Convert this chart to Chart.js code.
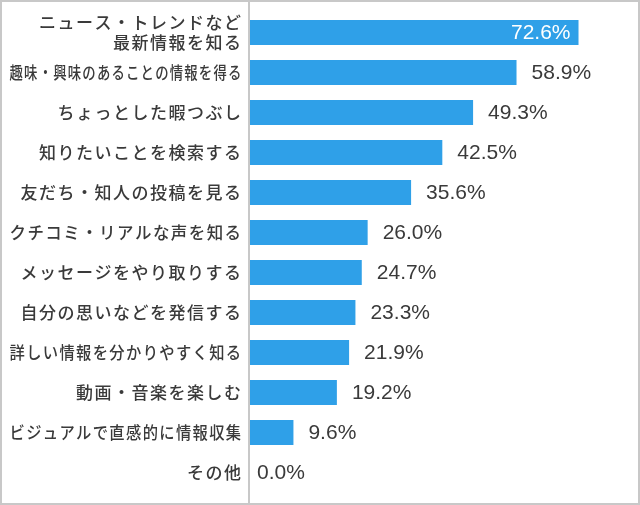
<!DOCTYPE html>
<html>
<head>
<meta charset="utf-8">
<script src="https://cdn.jsdelivr.net/npm/chart.js@4/dist/chart.umd.min.js"></script>
<style>
  html, body { margin: 0; padding: 0; background: #fff; }
  #box { width: 640px; height: 505px; box-sizing: border-box; border: 2px solid #c8c8c8; background: #fff; }
  canvas { display: block; }
</style>
</head>
<body>
<div id="box"><canvas id="chart" width="636" height="501"></canvas></div>
<script>
// data
const categories = [
  ['ニュース・トレンドなど', '最新情報を知る'],
  '趣味・興味のあることの情報を得る',
  'ちょっとした暇つぶし',
  '知りたいことを検索する',
  '友だち・知人の投稿を見る',
  'クチコミ・リアルな声を知る',
  'メッセージをやり取りする',
  '自分の思いなどを発信する',
  '詳しい情報を分かりやすく知る',
  '動画・音楽を楽しむ',
  'ビジュアルで直感的に情報収集',
  'その他'
];
const values = [72.6, 58.9, 49.3, 42.5, 35.6, 26.0, 24.7, 23.3, 21.9, 19.2, 9.6, 0.0];
const xMax = 80;

const BAR = '#2fa0e8';
const TXT = '#3a3a3a';
const LABEL_MAX_W = 233;   // long labels get squeezed to this width
const AXIS_W = 248;        // left edge of plot area

// y axis labels: a bit of letter spacing, squeeze if too long
const labelSpacing = {
  id: 'labelSpacing',
  beforeDraw(chart) {
    const ctx = chart.ctx;
    ctx.letterSpacing = '1.5px';
    if (!ctx._origFill) {
      ctx._origFill = ctx.fillText;
    }
    ctx.fillText = function (t, x, y, mw) {
      return ctx._origFill.call(ctx, t, x, y, mw === undefined ? LABEL_MAX_W : mw);
    };
  },
  beforeDatasetsDraw(chart) {
    const ctx = chart.ctx;
    ctx.letterSpacing = '0px';
    ctx.fillText = ctx._origFill;
    // vertical axis line, full height
    const x = chart.scales.x.left;
    ctx.save();
    ctx.fillStyle = '#c8c8c8';
    ctx.fillRect(x - 2, 0, 2, chart.height);
    ctx.restore();
  }
};

// value labels at the bar ends
const valueLabels = {
  id: 'valueLabels',
  afterDatasetsDraw(chart) {
    const ctx = chart.ctx;
    const meta = chart.getDatasetMeta(0);
    ctx.save();
    ctx.letterSpacing = '0px';
    ctx.font = '21px "Liberation Sans", Arial, sans-serif';
    ctx.textBaseline = 'middle';
    meta.data.forEach((bar, i) => {
      const v = values[i];
      const txt = v.toFixed(1) + '%';
      if (v > 70) {
        ctx.fillStyle = '#ffffff';
        ctx.textAlign = 'right';
        ctx.fillText(txt, bar.x - 8, bar.y + 1);
      } else {
        ctx.fillStyle = TXT;
        ctx.textAlign = 'left';
        ctx.fillText(txt, bar.x + (v > 0 ? 15 : 7), bar.y + 1);
      }
    });
    ctx.restore();
  }
};

const ctx = document.getElementById('chart').getContext('2d');
new Chart(ctx, {
  type: 'bar',
  data: {
    labels: categories,
    datasets: [{
      data: values,
      backgroundColor: BAR,
      borderWidth: 0,
      barPercentage: 0.625,
      categoryPercentage: 1
    }]
  },
  options: {
    indexAxis: 'y',
    responsive: false,
    animation: false,
    layout: { padding: { top: 10.5, bottom: 10.5, left: 0, right: 26 } },
    plugins: {
      legend: { display: false },
      tooltip: { enabled: false }
    },
    scales: {
      x: {
        min: 0,
        max: xMax,
        display: false
      },
      y: {
        offset: true,
        grid: { display: false, drawTicks: false },
        border: { display: false },
        ticks: {
          color: TXT,
          padding: 7.5,
          autoSkip: false,
          font: { family: '"Noto Sans CJK JP", sans-serif', size: 17, weight: 500, lineHeight: 1.2 }
        },
        afterFit(scale) {
          scale.width = AXIS_W;
          scale.paddingTop = 0;
          scale.paddingBottom = 0;
        }
      }
    }
  },
  plugins: [labelSpacing, valueLabels]
});
</script>
</body>
</html>
